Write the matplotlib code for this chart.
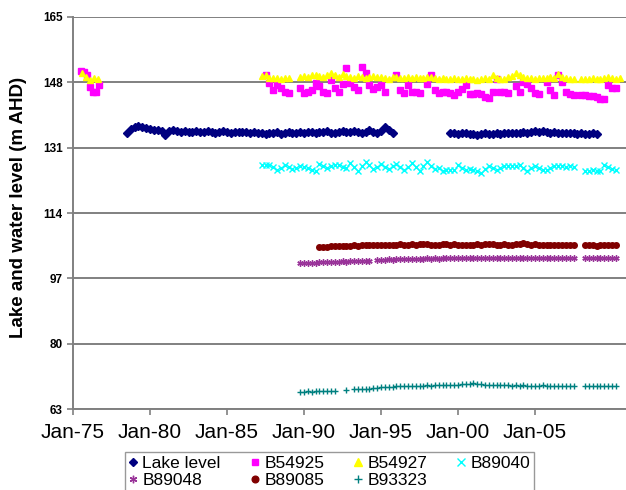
import numpy as np
import matplotlib
matplotlib.use("Agg")
import matplotlib.pyplot as plt

plt.rcParams['font.family'] = ['Liberation Sans', 'DejaVu Sans']

nan = np.nan
step = 0.25  # quarterly readings

# ---- data (decimal years, m AHD) ----
lake_start = 1978.5
lake_level = [134.9, 135.9,
              136.5, 136.7, 136.5, 136.2, 135.9, 135.7, 135.6, 135.4,
              134.2, 135.3, 135.5, 135.3, 135.2, 135.4, 135.2, 135.1,
              135.3, 135.0, 135.2, 135.4, 135.2, 134.9, 135.0, 135.3,
              135.1, 134.9, 135.2, 135.0, 135.1, 135.2, 134.9, 135.0,
              134.9, 134.7, 134.6, 134.8, 134.9, 135.0, 134.6, 134.8,
              135.0, 134.9, 134.7, 135.0, 134.8, 135.0, 135.2, 134.9,
              135.1, 135.0, 135.3, 134.9, 134.7, 135.0, 135.3, 135.0,
              135.2, 135.4, 135.0, 134.8, 135.2, 135.5, 135.1, 134.9,
              135.4, 136.5, 135.6, 134.9,
              nan, nan, nan, nan, nan, nan, nan, nan, nan, nan, nan, nan, nan, nan,
              134.8, 134.7,
              134.6, 134.8, 134.7, 134.5, 134.6, 134.4, 134.6, 134.7,
              134.5, 134.6, 134.8, 134.6, 134.7, 134.9, 134.7, 134.8,
              134.9, 135.0, 134.8, 135.2, 135.3, 135.0, 135.3, 135.1,
              134.9, 135.1, 134.8, 134.7, 134.8, 134.9, 134.7, 134.6,
              134.7, 134.5, 134.6, 134.7, 134.5]

b54925_early_start = 1975.5
b54925_early = [150.9, 150.6, 149.8, 146.8, 145.6, 145.5, 147.3]
b54925_start = 1987.5
b54925 = [149.9, 147.7,
          146.0, 147.3, 146.4, 145.4, 145.2, nan, nan, 146.4,
          145.1, 145.6, 145.9, 147.7, 147.0, 145.6, 145.3, 148.6,
          146.4, 145.6, 147.5, 151.6, 147.7, 146.8, 146.0, 152.1,
          150.4, 147.3, 146.2, 146.8, 147.3, 145.6, nan, nan,
          149.9, 146.0, 145.1, 147.3, 145.6, 145.4, 145.1, nan,
          147.5, 149.9, 146.0, 145.1, 145.6, 145.6, 145.2, 144.7,
          145.6, 146.2, 147.3, 144.9, 145.0, 145.1, 144.9, 144.2,
          143.8, 145.6, 148.8, 145.6, 145.5, 145.3, nan, 147.0,
          145.4, 148.0, 147.6, 146.5, 145.1, 144.9, nan, 148.2,
          146.0, 144.7, 149.9, 148.2, 145.6, 145.0, 144.7, nan,
          144.7, 144.7, 144.5, 144.4, 144.3, 143.6, 143.7, 147.3,
          146.4, 146.4]

b54927_early_start = 1975.6
b54927_early = [150.4, 149.5, 148.7, 149.1, 148.9]
b54927_start = 1987.25
b54927 = [149.6, 149.9, 149.2,
          149.0, 149.1, 148.9, 149.0, 149.1, nan, nan, 149.3,
          149.6, 149.4, 149.8, 150.0, 149.7, 149.3, 149.8, 150.3,
          149.8, 149.5, 150.1, 149.6, 149.4, 149.2, 149.7, 149.3,
          149.2, 149.4, 149.6, 149.3, 149.5, 149.2, 148.9, 149.3,
          149.5, 149.2, 149.0, 149.3, 149.1, 149.4, 149.2, 149.0,
          149.5, 149.3, 149.0, 148.9, 149.1, 148.9, 148.8, 149.0,
          148.9, 148.8, 149.0, 148.8, 148.9, 148.7, 148.9, 149.0,
          148.8, 149.9, 149.0, 148.8, 148.9, 149.3, 149.6, 150.5,
          149.8, 149.5, 149.2, 149.0, 148.9, 149.0, 149.2, 149.1,
          149.4, 149.2, 150.2, 149.5, 149.1, 148.9, 148.8, nan,
          148.9, 148.8, 148.9, 149.0, 148.8, 148.9, 149.2, 149.4,
          149.1, 148.9, 149.0]

b89040_start = 1987.25
b89040 = [126.5, 126.4, 126.6,
          125.9, 125.2, 125.8, 126.5, 125.9, 125.4, 125.8, 126.2,
          125.9, 125.6, 125.3, 125.0, 126.8, 126.2, 125.6, 126.1,
          126.5, 126.5, 126.0, 125.6, 127.1, 126.0, 125.0, 126.2,
          127.4, 126.4, 125.4, 126.0, 126.8, 126.0, 125.4, 126.1,
          126.8, 126.0, 125.2, 126.0, 126.9, 126.0, 125.0, 126.1,
          127.3, 126.3, 125.4, 125.8, 125.0, 125.2, 125.3, 125.2,
          126.5, 125.8, 125.2, 125.5, 125.3, 124.8, 124.5, 125.4,
          126.2, 125.7, 125.2, 125.7, 126.2, 126.3, 126.2, 126.3,
          126.5, 125.6, 125.0, 125.6, 126.2, 125.7, 125.2, 125.2,
          125.6, 126.2, 126.1, 126.2, 126.0, 126.1, 126.0, nan,
          nan, 125.0, 124.9, 125.1, 124.9, 124.8, 126.5, 126.0,
          125.4, 125.3]

b89048_start = 1989.75
b89048 = [100.9,
          100.9, 101.0, 101.1, 101.1, 101.2, 101.2, 101.3, 101.2,
          101.3, 101.3, 101.4, 101.3, 101.4, 101.5, 101.4, 101.5,
          101.6, 101.5, nan, 101.8, 101.9, 101.9, 102.0, 101.9,
          102.0, 102.0, 102.1, 102.0, 102.1, 102.0, 102.1, 102.1,
          102.2, 102.1, 102.2, 102.1, 102.3, 102.2, 102.2, 102.3,
          102.2, 102.2, 102.3, 102.2, 102.2, 102.3, 102.2, 102.2,
          102.3, 102.2, 102.3, 102.2, 102.3, 102.4, 102.3, 102.2,
          102.3, 102.3, 102.2, 102.3, 102.2, 102.3, 102.2, 102.3,
          102.2, 102.2, 102.3, 102.2, 102.2, 102.3, 102.2, nan,
          nan, 102.2, 102.3, 102.2, 102.2, 102.3, 102.2, 102.3,
          102.2, 102.2]

b89085_start = 1991.0
b89085 = [105.1, 105.1, 105.2, 105.3, 105.3, 105.4, 105.4, 105.5,
          105.5, 105.6, 105.5, 105.6, 105.7, 105.6, 105.7, 105.7,
          105.8, 105.7, 105.8, 105.8, 105.8, 105.9, 105.8, 105.8,
          105.9, 105.8, 105.9, 106.0, 105.9, 105.8, 105.7, 105.8,
          105.9, 106.0, 105.8, 105.9, 105.8, 105.8, 105.7, 105.8,
          105.8, 105.9, 105.8, 105.9, 106.0, 105.9, 105.8, 105.8,
          105.9, 105.8, 105.8, 105.9, 106.0, 106.1, 105.9, 105.8,
          105.9, 105.8, 105.8, 105.7, 105.8, 105.7, 105.8, 105.8,
          105.7, 105.8, 105.7, nan, nan, 105.8, 105.7, 105.6,
          105.5, 105.6, 105.7, 105.8, 105.8, 105.7]

b93323_start = 1989.75
b93323 = [67.4,
          67.5, 67.6, 67.5, 67.7, 67.6, 67.7, 67.8, 67.7,
          67.8, nan, nan, 68.0, nan, 68.1, 68.2, 68.2,
          68.3, 68.3, 68.4, 68.4, 68.6, 68.7, 68.8, 68.8,
          68.9, 68.9, 69.0, 69.0, 69.0, 69.1, 69.1, 69.1,
          69.2, 69.1, 69.2, 69.2, 69.2, 69.3, 69.2, 69.3,
          69.3, 69.4, 69.6, 69.5, 69.7, 69.5, 69.4, 69.3,
          69.3, 69.2, 69.3, 69.2, 69.2, 69.2, 69.1, 69.2,
          69.1, 69.2, 69.1, 69.1, 69.1, 69.1, 69.2, 69.1,
          69.1, 69.1, 69.0, 69.1, 69.1, 69.0, 69.0, nan,
          nan, 69.0, 69.0, 69.0, 69.0, 69.0, 69.0, 68.9,
          69.0, 69.0]

yticks = [63, 80, 97, 114, 131, 148, 165]
xticks = [1975, 1980, 1985, 1990, 1995, 2000, 2005]
xticklabels = ["Jan-75", "Jan-80", "Jan-85", "Jan-90", "Jan-95", "Jan-00", "Jan-05"]


def years(start, vals, dt=step):
    return start + dt * np.arange(len(vals))


fig = plt.figure(figsize=(6.26, 4.9), dpi=100)
ax = fig.add_axes([73/626, 1-409/490, 1-73/626, 392/490])

ms_kw = dict(linestyle='none')
h_lake, = ax.plot(years(lake_start, lake_level), lake_level, marker='D', ms=3.7,
                  color='#000080', mec='#000080', label='Lake level', **ms_kw)
ax.plot(years(b54925_early_start, b54925_early, 0.2), b54925_early, marker='s', ms=3.9,
        color='#FF00FF', **ms_kw)
h_925, = ax.plot(years(b54925_start, b54925), b54925, marker='s', ms=3.9,
                 color='#FF00FF', label='B54925', **ms_kw)
ax.plot(years(b54927_early_start, b54927_early), b54927_early, marker='^', ms=4.4,
        color='#FFFF00', **ms_kw)
h_927, = ax.plot(years(b54927_start, b54927), b54927, marker='^', ms=4.4,
                 color='#FFFF00', label='B54927', **ms_kw)
h_040, = ax.plot(years(b89040_start, b89040), b89040, marker='x', ms=4.5, mew=1.0,
                 color='#00FFFF', label='B89040', **ms_kw)
h_048, = ax.plot(years(b89048_start, b89048), b89048, marker=(6, 2, 0), ms=4.5, mew=1.0,
                 color='#993399', label='B89048', **ms_kw)
h_085, = ax.plot(years(b89085_start, b89085), b89085, marker='o', ms=4.0,
                 color='#800000', label='B89085', **ms_kw)
h_323, = ax.plot(years(b93323_start, b93323), b93323, marker='+', ms=5, mew=1.0,
                 color='#008080', label='B93323', **ms_kw)

ax.set_xlim(1975, 1975 + (626-73)/15.4)
ax.set_ylim(63, 165)
ax.set_yticks(yticks)
ax.set_yticklabels([str(t) for t in yticks], fontsize=8.5, fontweight='bold')
ax.set_xticks(xticks)
ax.set_xticklabels(xticklabels, fontsize=15)
ax.tick_params(axis='both', color='#808080', length=4, width=1.2, direction='out')
ax.tick_params(axis='x', pad=6)
ax.yaxis.grid(True, color='#808080', linewidth=1.4)
ax.set_axisbelow(True)
for side in ['top', 'right']:
    ax.spines[side].set_visible(False)
for side in ['left', 'bottom']:
    ax.spines[side].set_color('#808080')
    ax.spines[side].set_linewidth(1.4)

fig.text(19/626, 1-207/490, "Lake and water level (m AHD)", rotation=90,
         fontsize=13.5, fontweight='bold', ha='center', va='center')

# Excel fills the legend row by row; matplotlib fills by column
handles = [h_lake, h_048, h_925, h_085, h_927, h_323, h_040]
leg = fig.legend(handles=handles, labels=[h.get_label() for h in handles],
                 ncol=4, loc='upper left', bbox_to_anchor=(125/626, 1-452/490),
                 borderaxespad=0, fontsize=12.5, frameon=True, fancybox=False,
                 edgecolor='#808080', handlelength=0.5, handletextpad=0.3,
                 columnspacing=1.7, labelspacing=0.15, borderpad=0.2, markerscale=1.2)
leg.get_frame().set_linewidth(1.0)

fig.savefig("out.png", dpi=100)
